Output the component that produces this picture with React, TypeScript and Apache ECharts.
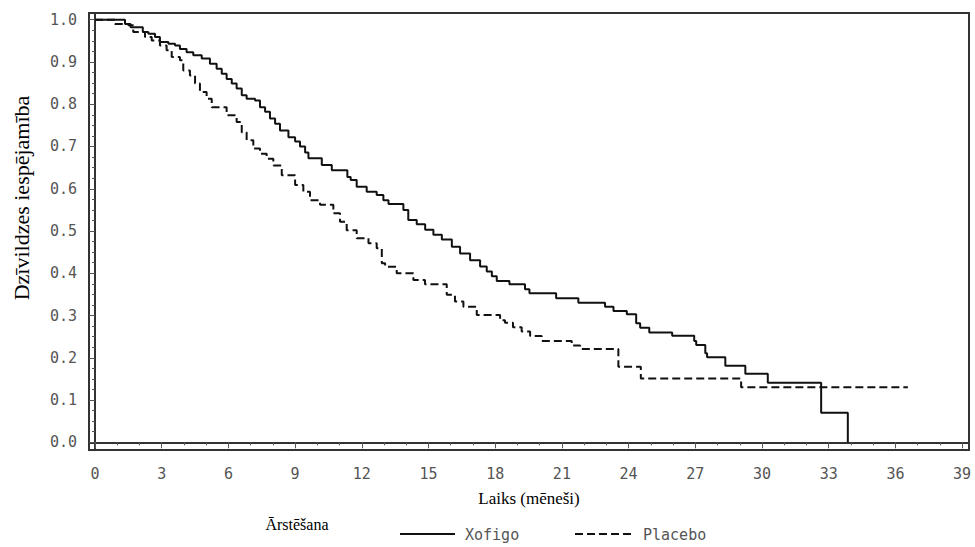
import React, { useEffect, useRef } from "react";
import * as echarts from "echarts";

// ---- Data ----
const seriesNames = ["Xofigo", "Placebo"];

const xTickLabels = [0, 3, 6, 9, 12, 15, 18, 21, 24, 27, 30, 33, 36, 39];
const yTickLabels = [0, 0.1, 0.2, 0.3, 0.4, 0.5, 0.6, 0.7, 0.8, 0.9, 1.0];

const xofigoTime = [
  0, 1.35, 1.6, 2.15, 2.4, 2.7, 2.92, 3.3, 3.6, 3.82, 4.12, 4.42, 4.8, 5.17, 5.47, 5.7,
  5.92, 6.15, 6.37, 6.6, 6.82, 7.2, 7.42, 7.65, 7.87, 8.1, 8.32, 8.7, 9.0, 9.22, 9.45,
  9.6, 10.2, 10.65, 11.35, 11.5, 11.77, 12.22, 12.67, 12.97, 13.2, 13.87, 14.09, 14.47,
  14.85, 15.22, 15.6, 16.05, 16.42, 16.87, 17.32, 17.62, 17.85, 18.07, 18.64, 19.34,
  19.54, 20.74, 21.74, 22.94, 23.32, 23.92, 24.34, 24.52, 24.93, 25.96, 26.95, 27.04,
  27.45, 27.53, 28.35, 29.25, 30.26, 32.66, 33.86,
];
const xofigoSurv = [
  1.0, 0.99, 0.982, 0.971, 0.967, 0.959, 0.947, 0.943, 0.939, 0.931, 0.923, 0.916, 0.908,
  0.896, 0.884, 0.872, 0.86, 0.849, 0.837, 0.821, 0.813, 0.809, 0.793, 0.782, 0.766,
  0.754, 0.738, 0.722, 0.712, 0.7, 0.686, 0.672, 0.656, 0.644, 0.628, 0.621, 0.605,
  0.593, 0.585, 0.573, 0.564, 0.55, 0.526, 0.516, 0.503, 0.491, 0.48, 0.463, 0.447,
  0.431, 0.416, 0.404, 0.393, 0.382, 0.374, 0.362, 0.353, 0.341, 0.33, 0.321, 0.311,
  0.303, 0.282, 0.271, 0.26, 0.252, 0.24, 0.23, 0.211, 0.201, 0.181, 0.162, 0.141,
  0.07, 0.0,
];

const placeboTime = [
  0, 0.9, 1.5, 1.72, 2.25, 2.55, 2.92, 3.22, 3.45, 3.82, 3.97, 4.27, 4.5, 4.72, 5.02,
  5.25, 5.92, 6.37, 6.6, 6.82, 7.12, 7.42, 7.72, 8.02, 8.4, 9.0, 9.37, 9.67, 10.12,
  10.72, 11.02, 11.32, 11.77, 12.3, 12.67, 12.9, 13.05, 13.57, 14.32, 14.84, 15.82,
  16.19, 16.57, 17.17, 18.22, 18.44, 18.8, 19.19, 19.57, 20.09, 21.44, 21.82, 23.54,
  24.55, 29.06, 36.56,
];
const placeboSurv = [
  1.0, 0.99, 0.987, 0.971, 0.959, 0.951, 0.939, 0.928, 0.912, 0.904, 0.88, 0.868, 0.849,
  0.829, 0.813, 0.793, 0.774, 0.758, 0.734, 0.715, 0.695, 0.683, 0.671, 0.655, 0.632,
  0.609, 0.593, 0.573, 0.562, 0.542, 0.522, 0.502, 0.483, 0.471, 0.459, 0.424, 0.4155,
  0.4, 0.384, 0.374, 0.349, 0.333, 0.321, 0.301, 0.289, 0.283, 0.272, 0.262, 0.2515,
  0.24, 0.229, 0.221, 0.179, 0.151, 0.13, 0.13,
];

const zip = (t: number[], s: number[]) => t.map((v, i) => [v, s[i]]);

const TICK_FONT = "'DejaVu Sans Mono', monospace";
const SERIF = "'Liberation Serif', 'Times New Roman', serif";

export default function App() {
  const ref = useRef<HTMLDivElement>(null);

  useEffect(() => {
    if (!ref.current) return;
    document.body.style.margin = "0";
    document.body.style.overflow = "hidden";
    const chart = echarts.init(ref.current, undefined, { renderer: "svg" });

    const xMinor: number[] = [];
    for (let i = 0; i <= 39; i++) xMinor.push(i);
    const yMinor: number[] = [];
    for (let i = 0; i <= 40; i++) yMinor.push(Math.round(i * 25) / 1000);

    const xMin = -0.27;
    const xMax = 39.31;
    const yMin = -0.0182;
    const yMax = 1.0159;

    const frameLine = { show: true, lineStyle: { color: "#333", width: 2 } };

    chart.setOption({
      animation: false,
      backgroundColor: "#fff",
      grid: {
        left: 89,
        right: 6,
        top: 13,
        bottom: 97,
        show: true,
        borderColor: "#333",
        borderWidth: 2,
        backgroundColor: "transparent",
      },
      xAxis: [
        {
          type: "value",
          min: xMin,
          max: xMax,
          position: "bottom",
          axisLine: frameLine,
          splitLine: { show: false },
          axisTick: {
            show: true,
            customValues: xTickLabels,
            length: 6,
            lineStyle: { color: "#555", width: 1 },
          },
          axisLabel: {
            show: true,
            customValues: xTickLabels,
            margin: 16,
            color: "#555",
            fontFamily: TICK_FONT,
            fontSize: 15,
            formatter: (v: number) => String(Math.round(v)),
          },
          name: "Laiks (mēneši)",
          nameLocation: "middle",
          nameGap: 40,
          nameTextStyle: {
            color: "#000",
            fontFamily: SERIF,
            fontSize: 17,
          },
        },
        {
          type: "value",
          min: xMin,
          max: xMax,
          position: "bottom",
          axisLine: { show: false },
          splitLine: { show: false },
          axisLabel: { show: false },
          axisTick: {
            show: true,
            customValues: xMinor,
            length: 3,
            lineStyle: { color: "#555", width: 1 },
          },
        },
      ],
      yAxis: [
        {
          type: "value",
          min: yMin,
          max: yMax,
          position: "left",
          axisLine: frameLine,
          splitLine: { show: false },
          axisTick: {
            show: true,
            customValues: yTickLabels,
            length: 6,
            lineStyle: { color: "#555", width: 1 },
          },
          axisLabel: {
            show: true,
            customValues: yTickLabels,
            margin: 12,
            color: "#555",
            fontFamily: TICK_FONT,
            fontSize: 15,
            formatter: (v: number) => v.toFixed(1),
          },
        },
        {
          type: "value",
          min: yMin,
          max: yMax,
          position: "left",
          axisLine: { show: false },
          splitLine: { show: false },
          axisLabel: { show: false },
          axisTick: {
            show: true,
            customValues: yMinor,
            length: 3,
            lineStyle: { color: "#555", width: 1 },
          },
        },
      ],
      series: [
        {
          name: seriesNames[0],
          type: "line",
          step: "end",
          xAxisIndex: 0,
          yAxisIndex: 0,
          showSymbol: false,
          symbol: "none",
          data: zip(xofigoTime, xofigoSurv),
          lineStyle: { color: "#111", width: 2 },
          z: 3,
        },
        {
          name: seriesNames[1],
          type: "line",
          step: "end",
          xAxisIndex: 0,
          yAxisIndex: 0,
          showSymbol: false,
          symbol: "none",
          data: zip(placeboTime, placeboSurv),
          lineStyle: { color: "#111", width: 2, type: [8, 4] },
          z: 2,
        },
      ],
      graphic: [
        {
          type: "text",
          x: 21,
          y: 198,
          rotation: Math.PI / 2,
          style: {
            text: "Dzīvildzes iespējamība",
            fill: "#000",
            font: `22px ${SERIF}`,
            align: "center",
            verticalAlign: "middle",
          },
        },
        {
          type: "text",
          x: 297,
          y: 524,
          style: {
            text: "Ārstēšana",
            fill: "#000",
            font: `16px ${SERIF}`,
            align: "center",
            verticalAlign: "middle",
          },
        },
        {
          type: "line",
          shape: { x1: 400, y1: 534, x2: 455, y2: 534 },
          style: { stroke: "#111", lineWidth: 2 },
        },
        {
          type: "text",
          x: 465,
          y: 535,
          style: {
            text: seriesNames[0],
            fill: "#555",
            font: `15px ${TICK_FONT}`,
            align: "left",
            verticalAlign: "middle",
          },
        },
        {
          type: "line",
          shape: { x1: 575, y1: 534, x2: 632, y2: 534 },
          style: { stroke: "#111", lineWidth: 2, lineDash: [8, 4] },
        },
        {
          type: "text",
          x: 643,
          y: 535,
          style: {
            text: seriesNames[1],
            fill: "#555",
            font: `15px ${TICK_FONT}`,
            align: "left",
            verticalAlign: "middle",
          },
        },
      ],
    });

    return () => chart.dispose();
  }, []);

  return (
    <div
      ref={ref}
      style={{ position: "fixed", left: 0, top: 0, width: 975, height: 547 }}
    />
  );
}
